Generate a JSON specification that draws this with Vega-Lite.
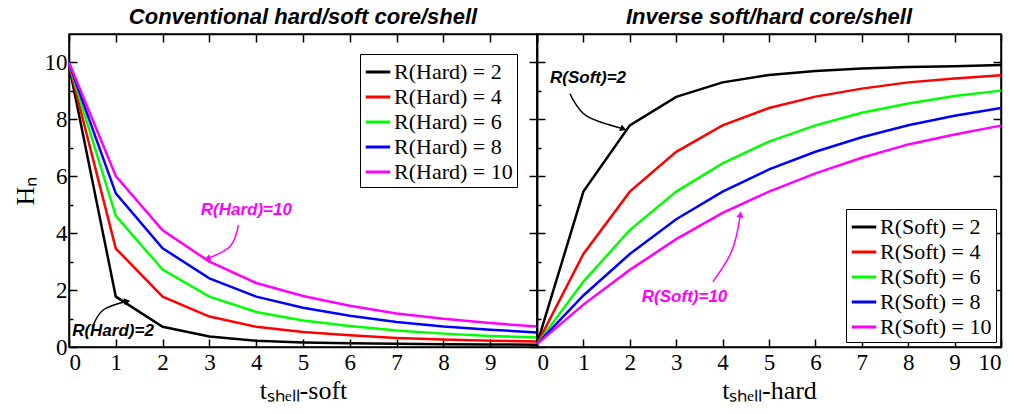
{
  "$schema": "https://vega.github.io/schema/vega-lite/v6.json",
  "background": "white",
  "padding": {"left": 11, "top": 5, "right": 5, "bottom": 5},
  "spacing": 0,
  "bounds": "flush",
  "config": {
    "view": {"stroke": "black", "strokeWidth": 1.5},
    "axis": {
      "grid": false,
      "domainColor": "black",
      "domainWidth": 1.5,
      "tickColor": "black",
      "tickWidth": 1.5,
      "tickSize": -8,
      "labelFont": "Liberation Serif",
      "labelFontSize": 23,
      "labelColor": "black",
      "labelPadding": 12,
      "titleFont": "Liberation Serif",
      "titleFontSize": 26,
      "titleFontWeight": "normal",
      "titleColor": "black"
    },
    "title": {"font": "Liberation Sans", "fontSize": 22, "fontWeight": "bold", "fontStyle": "italic", "color": "black", "offset": 4},
    "legend": {
      "labelFont": "Liberation Serif",
      "labelFontSize": 22,
      "labelColor": "black",
      "symbolType": "stroke",
      "symbolStrokeWidth": 3,
      "symbolSize": 600,
      "strokeColor": "black",
      "fillColor": "white",
      "padding": 4,
      "rowPadding": 0,
      "labelOffset": 2,
      "labelLimit": 300
    }
  },
  "datasets": {
    "hard": [
      {"series": "R(Hard) = 2", "t": 0, "H": 9.9}, {"series": "R(Hard) = 2", "t": 1, "H": 1.77}, {"series": "R(Hard) = 2", "t": 2, "H": 0.71}, {"series": "R(Hard) = 2", "t": 3, "H": 0.37}, {"series": "R(Hard) = 2", "t": 4, "H": 0.22}, {"series": "R(Hard) = 2", "t": 5, "H": 0.16}, {"series": "R(Hard) = 2", "t": 6, "H": 0.13}, {"series": "R(Hard) = 2", "t": 7, "H": 0.11}, {"series": "R(Hard) = 2", "t": 8, "H": 0.1}, {"series": "R(Hard) = 2", "t": 9, "H": 0.09}, {"series": "R(Hard) = 2", "t": 10, "H": 0.08},
      {"series": "R(Hard) = 4", "t": 0, "H": 9.92}, {"series": "R(Hard) = 4", "t": 1, "H": 3.46}, {"series": "R(Hard) = 4", "t": 2, "H": 1.77}, {"series": "R(Hard) = 4", "t": 3, "H": 1.07}, {"series": "R(Hard) = 4", "t": 4, "H": 0.71}, {"series": "R(Hard) = 4", "t": 5, "H": 0.53}, {"series": "R(Hard) = 4", "t": 6, "H": 0.41}, {"series": "R(Hard) = 4", "t": 7, "H": 0.32}, {"series": "R(Hard) = 4", "t": 8, "H": 0.26}, {"series": "R(Hard) = 4", "t": 9, "H": 0.22}, {"series": "R(Hard) = 4", "t": 10, "H": 0.19},
      {"series": "R(Hard) = 6", "t": 0, "H": 9.95}, {"series": "R(Hard) = 6", "t": 1, "H": 4.61}, {"series": "R(Hard) = 6", "t": 2, "H": 2.72}, {"series": "R(Hard) = 6", "t": 3, "H": 1.77}, {"series": "R(Hard) = 6", "t": 4, "H": 1.23}, {"series": "R(Hard) = 6", "t": 5, "H": 0.93}, {"series": "R(Hard) = 6", "t": 6, "H": 0.74}, {"series": "R(Hard) = 6", "t": 7, "H": 0.58}, {"series": "R(Hard) = 6", "t": 8, "H": 0.47}, {"series": "R(Hard) = 6", "t": 9, "H": 0.39}, {"series": "R(Hard) = 6", "t": 10, "H": 0.33},
      {"series": "R(Hard) = 8", "t": 0, "H": 9.97}, {"series": "R(Hard) = 8", "t": 1, "H": 5.4}, {"series": "R(Hard) = 8", "t": 2, "H": 3.47}, {"series": "R(Hard) = 8", "t": 3, "H": 2.41}, {"series": "R(Hard) = 8", "t": 4, "H": 1.77}, {"series": "R(Hard) = 8", "t": 5, "H": 1.38}, {"series": "R(Hard) = 8", "t": 6, "H": 1.1}, {"series": "R(Hard) = 8", "t": 7, "H": 0.88}, {"series": "R(Hard) = 8", "t": 8, "H": 0.72}, {"series": "R(Hard) = 8", "t": 9, "H": 0.61}, {"series": "R(Hard) = 8", "t": 10, "H": 0.51},
      {"series": "R(Hard) = 10", "t": 0, "H": 10.0}, {"series": "R(Hard) = 10", "t": 1, "H": 6.01}, {"series": "R(Hard) = 10", "t": 2, "H": 4.1}, {"series": "R(Hard) = 10", "t": 3, "H": 3.0}, {"series": "R(Hard) = 10", "t": 4, "H": 2.25}, {"series": "R(Hard) = 10", "t": 5, "H": 1.79}, {"series": "R(Hard) = 10", "t": 6, "H": 1.45}, {"series": "R(Hard) = 10", "t": 7, "H": 1.18}, {"series": "R(Hard) = 10", "t": 8, "H": 0.99}, {"series": "R(Hard) = 10", "t": 9, "H": 0.84}, {"series": "R(Hard) = 10", "t": 10, "H": 0.72}
    ],
    "soft": [
      {"series": "R(Soft) = 2", "t": 0, "H": 0.1}, {"series": "R(Soft) = 2", "t": 1, "H": 5.46}, {"series": "R(Soft) = 2", "t": 2, "H": 7.79}, {"series": "R(Soft) = 2", "t": 3, "H": 8.79}, {"series": "R(Soft) = 2", "t": 4, "H": 9.3}, {"series": "R(Soft) = 2", "t": 5, "H": 9.56}, {"series": "R(Soft) = 2", "t": 6, "H": 9.7}, {"series": "R(Soft) = 2", "t": 7, "H": 9.79}, {"series": "R(Soft) = 2", "t": 8, "H": 9.84}, {"series": "R(Soft) = 2", "t": 9, "H": 9.87}, {"series": "R(Soft) = 2", "t": 10, "H": 9.91},
      {"series": "R(Soft) = 4", "t": 0, "H": 0.1}, {"series": "R(Soft) = 4", "t": 1, "H": 3.27}, {"series": "R(Soft) = 4", "t": 2, "H": 5.46}, {"series": "R(Soft) = 4", "t": 3, "H": 6.86}, {"series": "R(Soft) = 4", "t": 4, "H": 7.79}, {"series": "R(Soft) = 4", "t": 5, "H": 8.4}, {"series": "R(Soft) = 4", "t": 6, "H": 8.8}, {"series": "R(Soft) = 4", "t": 7, "H": 9.08}, {"series": "R(Soft) = 4", "t": 8, "H": 9.3}, {"series": "R(Soft) = 4", "t": 9, "H": 9.44}, {"series": "R(Soft) = 4", "t": 10, "H": 9.55},
      {"series": "R(Soft) = 6", "t": 0, "H": 0.1}, {"series": "R(Soft) = 6", "t": 1, "H": 2.3}, {"series": "R(Soft) = 6", "t": 2, "H": 4.11}, {"series": "R(Soft) = 6", "t": 3, "H": 5.46}, {"series": "R(Soft) = 6", "t": 4, "H": 6.45}, {"series": "R(Soft) = 6", "t": 5, "H": 7.22}, {"series": "R(Soft) = 6", "t": 6, "H": 7.79}, {"series": "R(Soft) = 6", "t": 7, "H": 8.23}, {"series": "R(Soft) = 6", "t": 8, "H": 8.56}, {"series": "R(Soft) = 6", "t": 9, "H": 8.82}, {"series": "R(Soft) = 6", "t": 10, "H": 9.01},
      {"series": "R(Soft) = 8", "t": 0, "H": 0.1}, {"series": "R(Soft) = 8", "t": 1, "H": 1.81}, {"series": "R(Soft) = 8", "t": 2, "H": 3.27}, {"series": "R(Soft) = 8", "t": 3, "H": 4.49}, {"series": "R(Soft) = 8", "t": 4, "H": 5.46}, {"series": "R(Soft) = 8", "t": 5, "H": 6.24}, {"series": "R(Soft) = 8", "t": 6, "H": 6.86}, {"series": "R(Soft) = 8", "t": 7, "H": 7.37}, {"series": "R(Soft) = 8", "t": 8, "H": 7.79}, {"series": "R(Soft) = 8", "t": 9, "H": 8.13}, {"series": "R(Soft) = 8", "t": 10, "H": 8.4},
      {"series": "R(Soft) = 10", "t": 0, "H": 0.1}, {"series": "R(Soft) = 10", "t": 1, "H": 1.49}, {"series": "R(Soft) = 10", "t": 2, "H": 2.71}, {"series": "R(Soft) = 10", "t": 3, "H": 3.79}, {"series": "R(Soft) = 10", "t": 4, "H": 4.71}, {"series": "R(Soft) = 10", "t": 5, "H": 5.46}, {"series": "R(Soft) = 10", "t": 6, "H": 6.1}, {"series": "R(Soft) = 10", "t": 7, "H": 6.65}, {"series": "R(Soft) = 10", "t": 8, "H": 7.12}, {"series": "R(Soft) = 10", "t": 9, "H": 7.47}, {"series": "R(Soft) = 10", "t": 10, "H": 7.78}
    ],
    "hardNotes": [
      {"id": "10", "label": "R(Hard)=10", "t": 3.79, "H": 4.81},
      {"id": "2", "label": "R(Hard)=2", "t": 0.94, "H": 0.55}
    ],
    "hardArrows": [
      {"id": "10", "o": 0, "t": 3.62, "H": 4.28}, {"id": "10", "o": 1, "t": 3.45, "H": 3.55}, {"id": "10", "o": 2, "t": 2.98, "H": 3.12},
      {"id": "2", "o": 0, "t": 0.5, "H": 0.7}, {"id": "2", "o": 1, "t": 0.73, "H": 1.3}, {"id": "2", "o": 2, "t": 1.22, "H": 1.6}
    ],
    "softNotes": [
      {"id": "2", "label": "R(Soft)=2", "t": 1.1, "H": 9.45},
      {"id": "10", "label": "R(Soft)=10", "t": 3.18, "H": 1.77}
    ],
    "softArrows": [
      {"id": "2", "o": 0, "t": 0.71, "H": 8.9}, {"id": "2", "o": 1, "t": 1.06, "H": 8.13}, {"id": "2", "o": 2, "t": 1.84, "H": 7.68},
      {"id": "10", "o": 0, "t": 3.79, "H": 2.29}, {"id": "10", "o": 1, "t": 4.2, "H": 3.38}, {"id": "10", "o": 2, "t": 4.38, "H": 4.62}
    ]
  },
  "hconcat": [
    {
      "title": "Conventional hard/soft core/shell",
      "width": 468,
      "height": 313,
      "layer": [
        {
          "data": {"name": "hard"},
          "mark": {"type": "line", "strokeWidth": 2.5},
          "encoding": {
            "x": {"field": "t", "type": "quantitative", "scale": {"domain": [0, 10], "nice": false},
                  "axis": {"values": [0, 1, 2, 3, 4, 5, 6, 7, 8, 9, 10], "title": "tₛₕₑₗₗ-soft", "labelExpr": "datum.value == 10 ? '' : datum.label", "titlePadding": 3}},
            "y": {"field": "H", "type": "quantitative", "scale": {"domain": [0, 11], "nice": false},
                  "axis": {"values": [0, 1, 2, 3, 4, 5, 6, 7, 8, 9, 10], "labelExpr": "datum.value % 2 == 0 ? datum.label : ''", "title": "Hₙ", "titlePadding": 6, "labelPadding": 10,
                           "tickSize": {"condition": {"test": "datum.value % 2 == 1", "value": -4}, "value": -8}}},
            "color": {"field": "series", "type": "nominal",
                      "scale": {"domain": ["R(Hard) = 2", "R(Hard) = 4", "R(Hard) = 6", "R(Hard) = 8", "R(Hard) = 10"], "range": ["#000000", "#ff0000", "#00ff00", "#0000ff", "#ff00ff"]},
                      "legend": {"title": null, "orient": "top-right", "offset": 20}}
          }
        },
        {
          "data": {"name": "hard"},
          "mark": {"type": "line", "opacity": 0},
          "encoding": {
            "x": {"field": "t", "type": "quantitative", "axis": {"orient": "top", "values": [0, 1, 2, 3, 4, 5, 6, 7, 8, 9, 10], "labels": false, "title": null}},
            "y": {"field": "H", "type": "quantitative", "axis": {"orient": "right", "values": [0, 2, 4, 6, 8, 10], "labels": false, "title": null}}
          }
        },
        {
          "data": {"name": "hardArrows"},
          "transform": [{"filter": "datum.id == '10'"}],
          "mark": {"type": "line", "color": "#ff00ff", "strokeWidth": 1.5, "interpolate": "cardinal"},
          "encoding": {"x": {"field": "t", "type": "quantitative", "axis": null}, "y": {"field": "H", "type": "quantitative", "axis": null}, "order": {"field": "o"}}
        },
        {
          "data": {"name": "hardArrows"},
          "transform": [{"filter": "datum.id == '10' && datum.o == 2"}],
          "mark": {"type": "point", "shape": "triangle", "filled": true, "color": "#ff00ff", "size": 50, "angle": 250, "opacity": 1},
          "encoding": {"x": {"field": "t", "type": "quantitative", "axis": null}, "y": {"field": "H", "type": "quantitative", "axis": null}}
        },
        {
          "data": {"name": "hardArrows"},
          "transform": [{"filter": "datum.id == '2'"}],
          "mark": {"type": "line", "color": "black", "strokeWidth": 1.5, "interpolate": "cardinal"},
          "encoding": {"x": {"field": "t", "type": "quantitative", "axis": null}, "y": {"field": "H", "type": "quantitative", "axis": null}, "order": {"field": "o"}}
        },
        {
          "data": {"name": "hardArrows"},
          "transform": [{"filter": "datum.id == '2' && datum.o == 2"}],
          "mark": {"type": "point", "shape": "triangle", "filled": true, "color": "black", "size": 50, "angle": 80, "opacity": 1},
          "encoding": {"x": {"field": "t", "type": "quantitative", "axis": null}, "y": {"field": "H", "type": "quantitative", "axis": null}}
        },
        {
          "data": {"name": "hardNotes"},
          "transform": [{"filter": "datum.id == '10'"}],
          "mark": {"type": "text", "font": "Liberation Sans", "fontSize": 17, "fontWeight": "bold", "fontStyle": "italic", "color": "#ff00ff"},
          "encoding": {"x": {"field": "t", "type": "quantitative", "axis": null}, "y": {"field": "H", "type": "quantitative", "axis": null}, "text": {"field": "label"}}
        },
        {
          "data": {"name": "hardNotes"},
          "transform": [{"filter": "datum.id == '2'"}],
          "mark": {"type": "text", "font": "Liberation Sans", "fontSize": 17, "fontWeight": "bold", "fontStyle": "italic", "color": "black"},
          "encoding": {"x": {"field": "t", "type": "quantitative", "axis": null}, "y": {"field": "H", "type": "quantitative", "axis": null}, "text": {"field": "label"}}
        }
      ],
      "resolve": {"axis": {"x": "independent", "y": "independent"}}
    },
    {
      "title": "Inverse soft/hard core/shell",
      "width": 464,
      "height": 313,
      "layer": [
        {
          "data": {"name": "soft"},
          "mark": {"type": "line", "strokeWidth": 2.5},
          "encoding": {
            "x": {"field": "t", "type": "quantitative", "scale": {"domain": [0, 10], "nice": false},
                  "axis": {"values": [0, 1, 2, 3, 4, 5, 6, 7, 8, 9, 10], "title": "tₛₕₑₗₗ-hard", "titlePadding": 3}},
            "y": {"field": "H", "type": "quantitative", "scale": {"domain": [0, 11], "nice": false},
                  "axis": {"values": [0, 1, 2, 3, 4, 5, 6, 7, 8, 9, 10], "labels": false, "title": null,
                           "tickSize": {"condition": {"test": "datum.value % 2 == 1", "value": -4}, "value": -8}}},
            "color": {"field": "series", "type": "nominal",
                      "scale": {"domain": ["R(Soft) = 2", "R(Soft) = 4", "R(Soft) = 6", "R(Soft) = 8", "R(Soft) = 10"], "range": ["#000000", "#ff0000", "#00ff00", "#0000ff", "#ff00ff"]},
                      "legend": {"title": null, "orient": "bottom-right", "offset": 5}}
          }
        },
        {
          "data": {"name": "soft"},
          "mark": {"type": "line", "opacity": 0},
          "encoding": {
            "x": {"field": "t", "type": "quantitative", "axis": {"orient": "top", "values": [0, 1, 2, 3, 4, 5, 6, 7, 8, 9, 10], "labels": false, "title": null}},
            "y": {"field": "H", "type": "quantitative", "axis": {"orient": "right", "values": [0, 2, 4, 6, 8, 10], "labels": false, "title": null}}
          }
        },
        {
          "data": {"name": "softArrows"},
          "transform": [{"filter": "datum.id == '2'"}],
          "mark": {"type": "line", "color": "black", "strokeWidth": 1.5, "interpolate": "cardinal"},
          "encoding": {"x": {"field": "t", "type": "quantitative", "axis": null}, "y": {"field": "H", "type": "quantitative", "axis": null}, "order": {"field": "o"}}
        },
        {
          "data": {"name": "softArrows"},
          "transform": [{"filter": "datum.id == '2' && datum.o == 2"}],
          "mark": {"type": "point", "shape": "triangle", "filled": true, "color": "black", "size": 50, "angle": 112, "opacity": 1},
          "encoding": {"x": {"field": "t", "type": "quantitative", "axis": null}, "y": {"field": "H", "type": "quantitative", "axis": null}}
        },
        {
          "data": {"name": "softArrows"},
          "transform": [{"filter": "datum.id == '10'"}],
          "mark": {"type": "line", "color": "#ff00ff", "strokeWidth": 1.5, "interpolate": "cardinal"},
          "encoding": {"x": {"field": "t", "type": "quantitative", "axis": null}, "y": {"field": "H", "type": "quantitative", "axis": null}, "order": {"field": "o"}}
        },
        {
          "data": {"name": "softArrows"},
          "transform": [{"filter": "datum.id == '10' && datum.o == 2"}],
          "mark": {"type": "point", "shape": "triangle", "filled": true, "color": "#ff00ff", "size": 50, "angle": 10, "opacity": 1},
          "encoding": {"x": {"field": "t", "type": "quantitative", "axis": null}, "y": {"field": "H", "type": "quantitative", "axis": null}}
        },
        {
          "data": {"name": "softNotes"},
          "transform": [{"filter": "datum.id == '2'"}],
          "mark": {"type": "text", "font": "Liberation Sans", "fontSize": 17, "fontWeight": "bold", "fontStyle": "italic", "color": "black"},
          "encoding": {"x": {"field": "t", "type": "quantitative", "axis": null}, "y": {"field": "H", "type": "quantitative", "axis": null}, "text": {"field": "label"}}
        },
        {
          "data": {"name": "softNotes"},
          "transform": [{"filter": "datum.id == '10'"}],
          "mark": {"type": "text", "font": "Liberation Sans", "fontSize": 17, "fontWeight": "bold", "fontStyle": "italic", "color": "#ff00ff"},
          "encoding": {"x": {"field": "t", "type": "quantitative", "axis": null}, "y": {"field": "H", "type": "quantitative", "axis": null}, "text": {"field": "label"}}
        }
      ],
      "resolve": {"axis": {"x": "independent", "y": "independent"}}
    }
  ],
  "resolve": {"scale": {"color": "independent"}}
}
